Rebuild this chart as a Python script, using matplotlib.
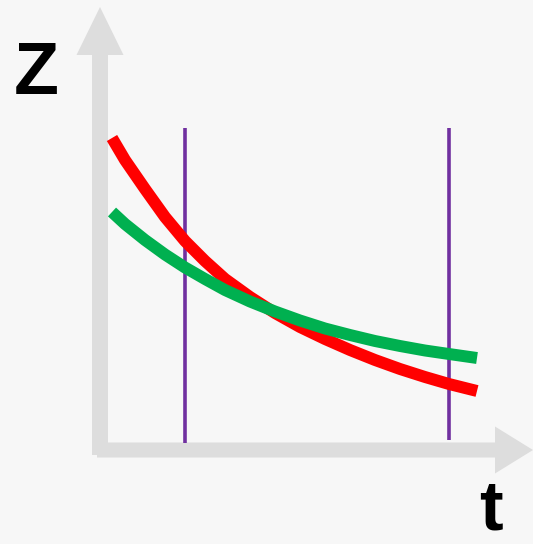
import matplotlib
matplotlib.use("Agg")
import numpy as np
from matplotlib import pyplot as plt
from matplotlib.patches import FancyArrow

# 坐标: t 向右, Z 向上 (原点在两轴交点)
t_vals = [12, 25, 45, 65, 85, 105, 125, 150, 175, 200, 225, 250, 275, 300, 325, 349, 377]
z_red = [313, 291, 262, 234, 210, 190, 172, 154, 138, 124, 112, 101, 91, 82, 74, 67, 60]
z_green = [239, 227, 211, 196.5, 183.5, 172, 161, 149.5, 139.5, 130.5, 122.5, 116, 110, 105, 100.5, 97, 93]
t_marks = [85, 349]

plt.rcParams['font.family'] = ['Liberation Sans', 'DejaVu Sans']

fig = plt.figure(figsize=(5.33, 5.44), dpi=100)
fig.patch.set_facecolor('#f7f7f7')
ax = fig.add_axes([0, 0, 1, 1])
ax.set_facecolor('#f7f7f7')
ax.set_xlim(-100, 433)
ax.set_ylim(-93, 451)
ax.axis('off')

# 坐标轴箭头
ax.add_patch(FancyArrow(0, -4, 0, 448, width=16, head_width=47, head_length=48,
                        length_includes_head=True, color='#dddddd', lw=0))
ax.add_patch(FancyArrow(-3, 1, 436, 0, width=15, head_width=47, head_length=38,
                        length_includes_head=True, color='#dddddd', lw=0))

# 竖线
ax.vlines(t_marks[0], 8, 323, color='#7030a0', lw=2.6)
ax.vlines(t_marks[1], 11, 323, color='#7030a0', lw=2.6)

# 曲线
ax.plot(t_vals, z_red, color='#ff0000', lw=8.6, solid_capstyle='butt', solid_joinstyle='round')
ax.plot(t_vals, z_green, color='#00b050', lw=8.6, solid_capstyle='butt', solid_joinstyle='round')

ax.text(-64, 376, 'Z', fontsize=53, fontweight='bold', ha='center', va='center')
ax.text(391, -61, 't', fontsize=51, fontweight='bold', ha='center', va='center')

fig.savefig('out.png', dpi=100, facecolor=fig.get_facecolor())
